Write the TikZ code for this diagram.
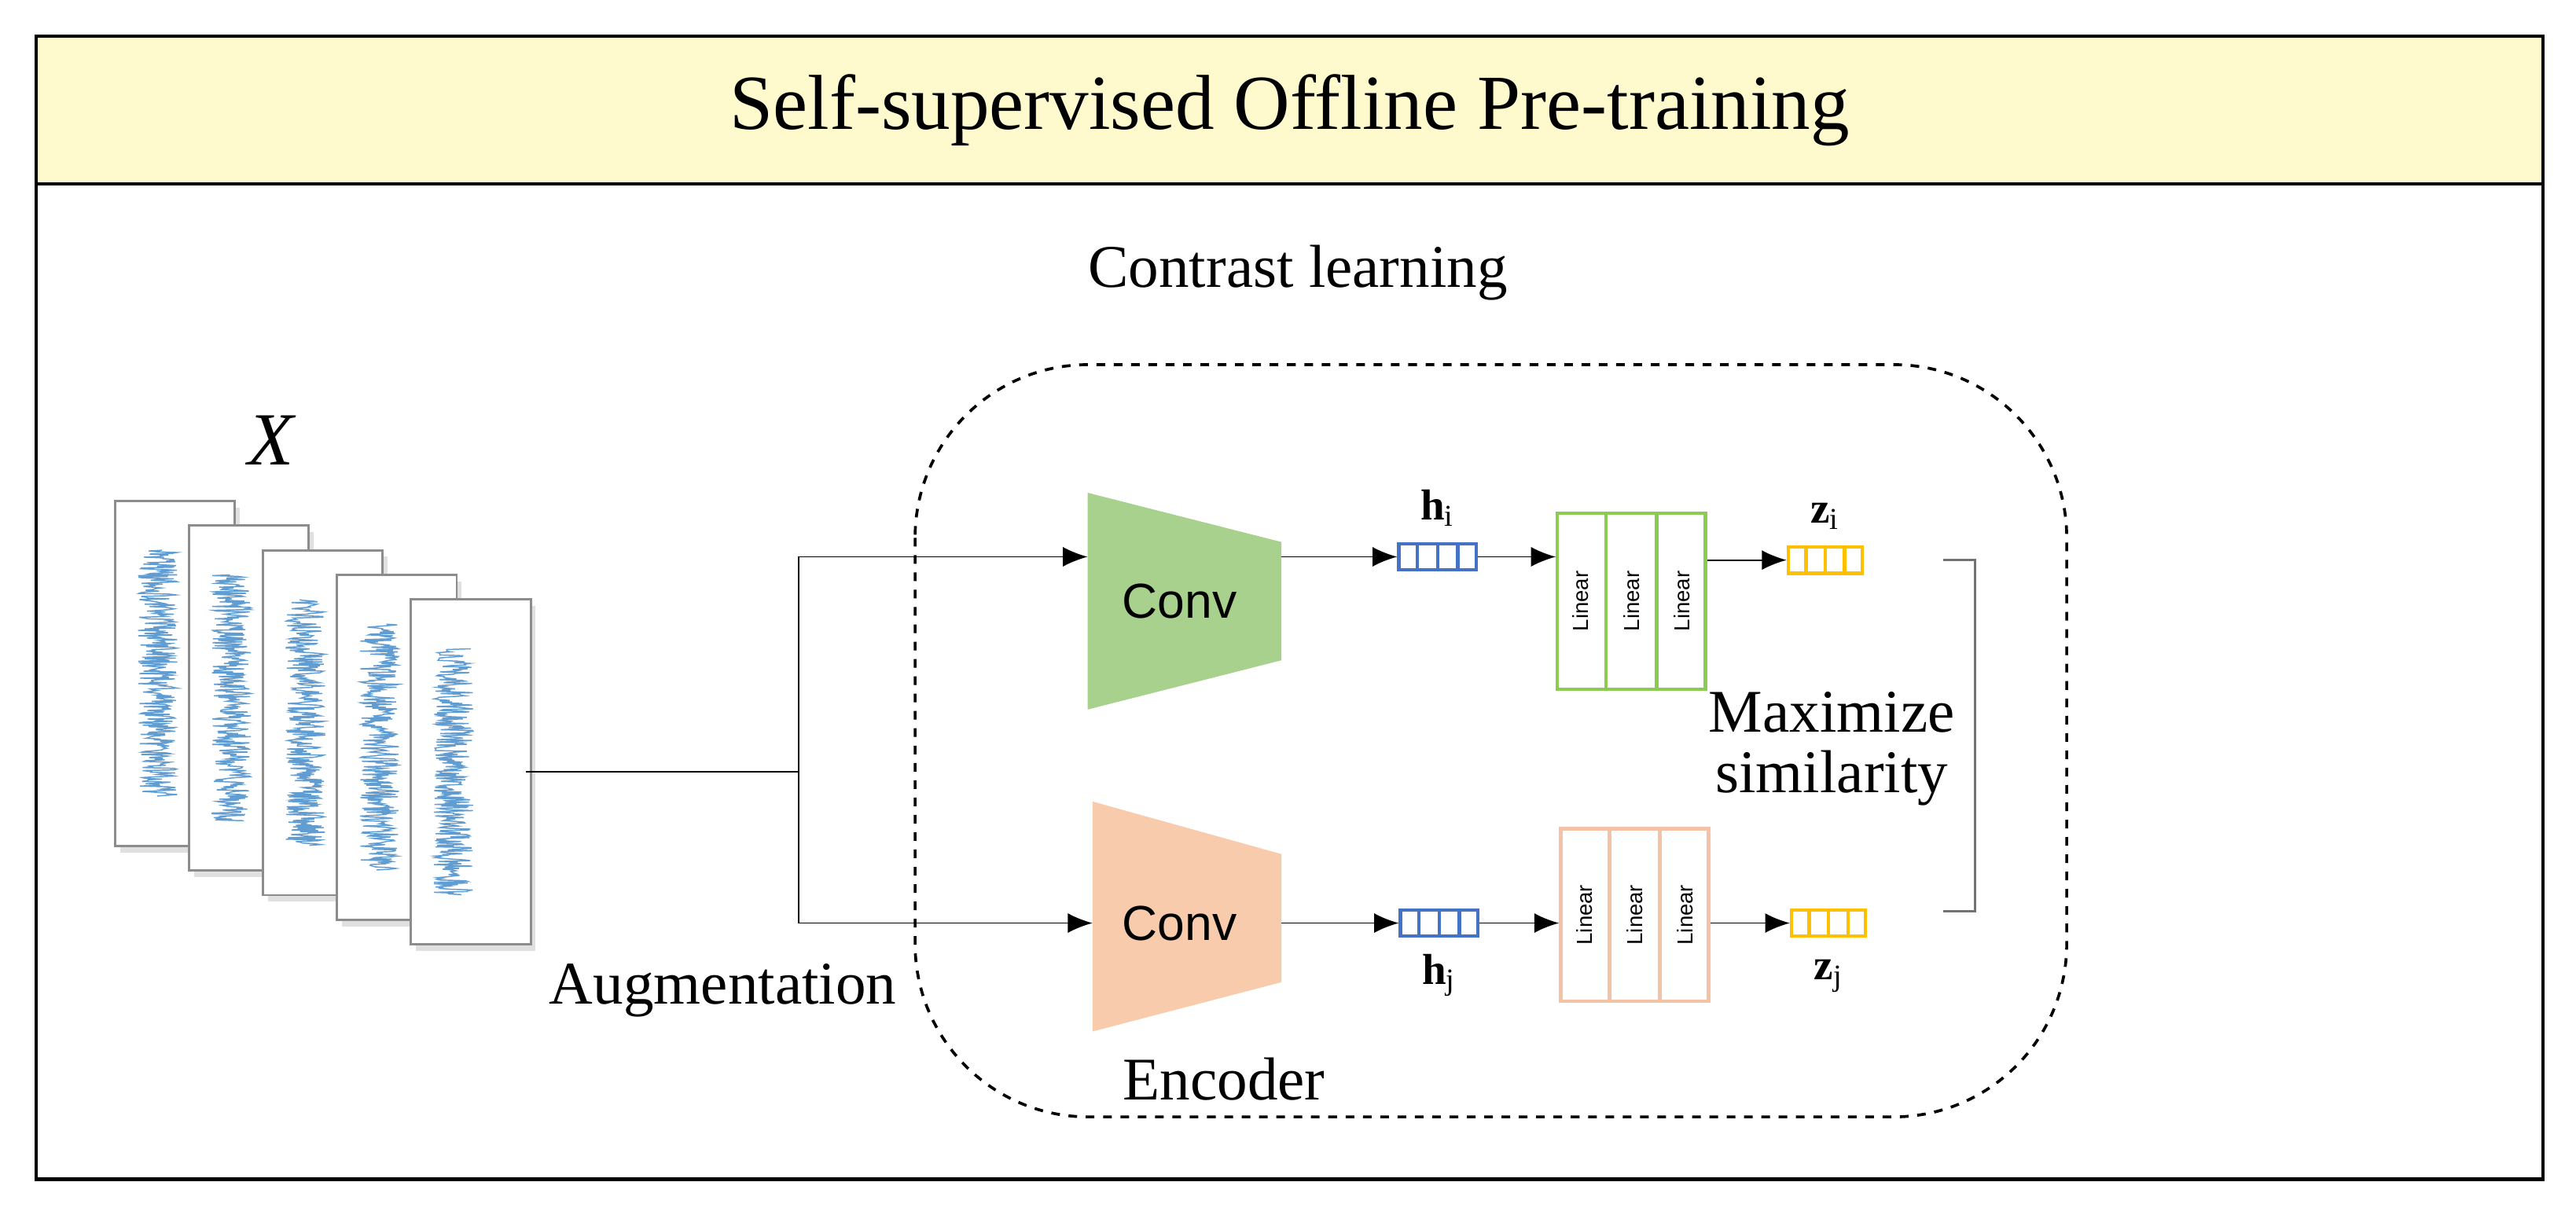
\documentclass[tikz,border=0pt]{standalone}
\usepackage{fontspec}
\setmainfont{Liberation Serif}
\newfontfamily\sansf{Liberation Sans}
\usetikzlibrary{positioning,arrows.meta,calc}
\definecolor{titlebg}{HTML}{FFFACD}
\definecolor{convgreen}{HTML}{A9D18E}
\definecolor{convpeach}{HTML}{F8CBAD}
\definecolor{lingreen}{HTML}{8CCB52}
\definecolor{linpeach}{HTML}{F4C2A4}
\definecolor{vecblue}{HTML}{4472C4}
\definecolor{vecgold}{HTML}{FFC000}
\definecolor{wave}{HTML}{2E7DC4}
\tikzset{
	arr/.style={-{Latex[length=3mm,width=2.4mm]}, line width=0.5pt},
	lbl/.style={font=\fontsize{21}{24}\selectfont},
	vlbl/.style={font=\fontsize{15}{17}\selectfont\bfseries},
	convtxt/.style={font=\sansf\fontsize{17}{19}\selectfont},
	lintxt/.style={font=\sansf\fontsize{7.5}{8}\selectfont, rotate=90},
	card/.style={draw=black!45, fill=white, line width=0.8pt},
}
\begin{document}
\begin{tikzpicture}[x=0.2mm, y=-0.2mm]
	\useasboundingbox (0,0) rectangle (1568,746);
	% Frame and title
	\draw[line width=1.2pt] (22,22) rectangle (1548,718);
	\draw[line width=1.2pt, fill=titlebg] (22,22) rectangle (1548,112);
	\node[font=\fontsize{27}{32}\selectfont] (title) at (785,67) {Self-supervised Offline Pre-training};
	\node[lbl] (cl) at (790,166) {Contrast learning};
	\draw[dashed, line width=1pt, rounded corners=60] (557,222) rectangle (1258,680);
	% Input cards
	\node[font=\fontsize{26}{30}\selectfont\itshape] (X) at (165,268) {X};
	\pgfmathsetseed{7}
	\foreach \i in {0,...,4} {
		\pgfmathsetmacro{\cx}{70+45*\i}
		\pgfmathsetmacro{\cy}{305+15*\i}
		\fill[black!12] (\cx+3,\cy+4) rectangle ++(73,210);
		\draw[card] (\cx,\cy) rectangle ++(73,210);
		\draw[wave, line width=0.4pt, opacity=0.75]
			plot[variable=\t, domain=0:1, samples=320] ({\cx+26+12*rand},{\cy+30+\t*150});
	}
	\coordinate (xout) at (320,470);
	\coordinate (split) at (486,470);
	\coordinate (splitT) at (486,339);
	\coordinate (splitB) at (486,562);
	\draw[line width=0.6pt] (xout) -- (split);
	\draw[line width=0.6pt] (splitT) -- (splitB);
	\node[lbl] (aug) at (440,603) {Augmentation};
	% Encoders
	\fill[convgreen] (662,300) -- (780,330) -- (780,402) -- (662,432) -- cycle;
	\fill[convpeach] (665,488) -- (780,520) -- (780,598) -- (665,628) -- cycle;
	\node[convtxt] (convi) at (718,366) {Conv};
	\node[convtxt] (convj) at (718,562) {Conv};
	\node[lbl] (enc) at (745,657) {Encoder};
	\coordinate (convinT) at (662,339);
	\coordinate (convinB) at (665,562);
	\coordinate (convoutT) at (780,339);
	\coordinate (convoutB) at (780,562);
	\draw[arr] (splitT) -- (convinT);
	\draw[arr] (splitB) -- (convinB);
	% Representations
	\node[draw=vecblue, line width=1.2pt, minimum width=9.4mm, minimum height=3.2mm, inner sep=0] (hi) at (875,339) {};
	\node[draw=vecblue, line width=1.2pt, minimum width=9.4mm, minimum height=3.2mm, inner sep=0] (hj) at (876,562) {};
	\node[draw=vecgold, line width=1.2pt, minimum width=9mm, minimum height=3.2mm, inner sep=0] (zi) at (1111,341) {};
	\node[draw=vecgold, line width=1.2pt, minimum width=9mm, minimum height=3.2mm, inner sep=0] (zj) at (1113,562) {};
	\foreach \v/\c in {hi/vecblue,hj/vecblue,zi/vecgold,zj/vecgold}
		\foreach \k in {1,2,3}
			\draw[\c, line width=1.2pt] ($(\v.north west)!\k/4!(\v.north east)$) -- ($(\v.south west)!\k/4!(\v.south east)$);
	\node[vlbl, above=2pt of hi] {h$_\mathrm{i}$};
	\node[vlbl, below=2pt of hj] {h$_\mathrm{j}$};
	\node[vlbl, above=2pt of zi] {z$_\mathrm{i}$};
	\node[vlbl, below=4pt of zj] {z$_\mathrm{j}$};
	% Projection heads
	\node[draw=lingreen, line width=1.2pt, minimum width=18mm, minimum height=21.4mm, inner sep=0] (proji) at (993,366) {};
	\node[draw=linpeach, line width=1.2pt, minimum width=18mm, minimum height=21mm, inner sep=0] (projj) at (995,557) {};
	\foreach \p/\c in {proji/lingreen,projj/linpeach} {
		\foreach \k in {1,2}
			\draw[\c, line width=1.2pt] ($(\p.north west)!\k/3!(\p.north east)$) -- ($(\p.south west)!\k/3!(\p.south east)$);
		\foreach \k in {1,3,5}
			\node[lintxt] at ($(\p.west)!\k/6!(\p.east)$) {Linear};
	}
	\draw[arr] (convoutT) -- (hi.west);
	\draw[arr] (convoutB) -- (hj.west);
	\draw[arr] (hi.east) -- (hi.east -| proji.west);
	\draw[arr] (hj.east) -- (hj.east -| projj.west);
	\draw[arr] (zi.west -| proji.east) -- (zi.west);
	\draw[arr] (zj.west -| projj.east) -- (zj.west);
	% Similarity bracket
	\coordinate (bri) at (1183,341);
	\coordinate (brj) at (1183,555);
	\draw[black!55, line width=0.8pt] (bri) -- ++(19,0) |- (brj);
	\node[lbl, align=center, inner sep=0] (maxsim) at (1115,456) {Maximize\\[-3pt]similarity};
\end{tikzpicture}
\end{document}
